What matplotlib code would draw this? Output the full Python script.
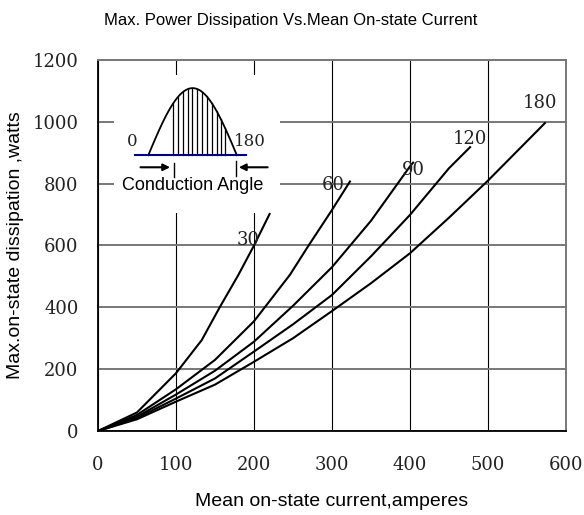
import numpy as np
import matplotlib
matplotlib.use("Agg")
import matplotlib.pyplot as plt
from matplotlib.patches import Rectangle

# curves: mean on-state current (A) vs max dissipation (W), per conduction angle
x30 = [0, 50, 100, 133, 156, 180, 200, 220]
y30 = [0, 60, 187, 294, 400, 505, 600, 702]
x60 = [0, 50, 100, 150, 200, 246, 270, 300, 323]
y60 = [0, 52, 135, 230, 355, 505, 600, 715, 807]
x90 = [0, 50, 100, 150, 200, 250, 300, 350, 400, 404]
y90 = [0, 46, 118, 195, 289, 405, 530, 680, 856, 868]
x120 = [0, 50, 100, 150, 200, 250, 300, 350, 400, 450, 477]
y120 = [0, 42, 105, 170, 257, 345, 440, 565, 699, 850, 918]
x180 = [0, 50, 100, 150, 200, 250, 300, 350, 400, 450, 500, 573]
y180 = [0, 38, 95, 150, 224, 300, 388, 478, 575, 690, 810, 996]

angles = ["30", "60", "90", "120", "180"]
label_pos = [(192, 618), (301, 796), (404, 845), (477, 945), (567, 1061)]

xticks = [0, 100, 200, 300, 400, 500, 600]
yticks = [0, 200, 400, 600, 800, 1000, 1200]

# inset sketch (same data units as the main axes)
box = (20, 705, 213, 447)
base_y = 892
hump_x0, hump_x1, hump_top = 64.5, 178, 1109
hatch_x = [96.6, 103, 109.4, 115, 121, 126.5, 132.9, 139.3, 145.7, 152.1, 157.7, 162.8]

serif = "DejaVu Serif"
sans = "Liberation Sans"

fig = plt.figure(figsize=(5.84, 5.15), dpi=100)
ax = fig.add_axes([98/584, 1-431/515, 468/584, 371/515])

ax.set_xlim(0, 600)
ax.set_ylim(0, 1200)
ax.set_xticks(xticks)
ax.set_yticks(yticks)
ax.tick_params(length=0, labelsize=13, labelcolor="#222")
ax.tick_params(axis="x", pad=18)
ax.tick_params(axis="y", pad=14)
for lab in ax.get_xticklabels() + ax.get_yticklabels():
    lab.set_family(serif)

ax.set_axisbelow(True)
ax.xaxis.grid(True, color="black", lw=0.8)
ax.yaxis.grid(True, color="#777777", lw=1.4)
ax.spines["left"].set_linewidth(1.3)
ax.spines["bottom"].set_linewidth(1.3)
for side in ["top", "right"]:
    ax.spines[side].set_color("#777777")
    ax.spines[side].set_linewidth(1.4)

for xs, ys in [(x30, y30), (x60, y60), (x90, y90), (x120, y120), (x180, y180)]:
    ax.plot(xs, ys, color="black", lw=1.5, zorder=3)

for t, (lx, ly) in zip(angles, label_pos):
    ax.text(lx, ly, t, family=serif, fontsize=13, color="#222",
            ha="center", va="center", zorder=4)

# white box behind the conduction-angle sketch
ax.add_patch(Rectangle(box[:2], box[2], box[3], facecolor="white",
                       edgecolor="none", zorder=1))
hx = np.linspace(hump_x0, hump_x1, 100)
hy = base_y + (hump_top - base_y) * np.sin(np.pi * (hx - hump_x0) / (hump_x1 - hump_x0))
ax.plot(hx, hy, color="black", lw=1.3, zorder=3)
for xv in hatch_x:
    yv = base_y + (hump_top - base_y) * np.sin(np.pi * (xv - hump_x0) / (hump_x1 - hump_x0))
    ax.plot([xv, xv], [base_y, yv], color="black", lw=0.9, zorder=3)
ax.plot([48, 190], [base_y, base_y], color="#000080", lw=1.5, zorder=3)
ax.text(44, 936, "0", family=serif, fontsize=12, color="#222", ha="center", va="center")
ax.text(195, 936, "180", family=serif, fontsize=12, color="#222", ha="center", va="center")
ax.annotate("", xy=(96, 853), xytext=(51, 853),
            arrowprops=dict(arrowstyle="-|>", color="black", lw=1.5, mutation_scale=10))
ax.annotate("", xy=(177, 853), xytext=(221, 853),
            arrowprops=dict(arrowstyle="-|>", color="black", lw=1.5, mutation_scale=10))
ax.plot([98, 98], [820, 868], color="black", lw=1.0, zorder=3)
ax.plot([176.5, 176.5], [825, 872], color="black", lw=1.0, zorder=3)
ax.text(122, 793, "Conduction Angle", family=sans, fontsize=13, ha="center", va="center", zorder=4)

ax.set_xlabel("Mean on-state current,amperes", family=sans, fontsize=14, labelpad=14)
ax.set_ylabel("Max.on-state dissipation ,watts", family=sans, fontsize=14, labelpad=6)
fig.text(0.497, 0.961, "Max. Power Dissipation Vs.Mean On-state Current",
         family=sans, fontsize=12, ha="center", va="center")

fig.savefig("out.png", dpi=100)
